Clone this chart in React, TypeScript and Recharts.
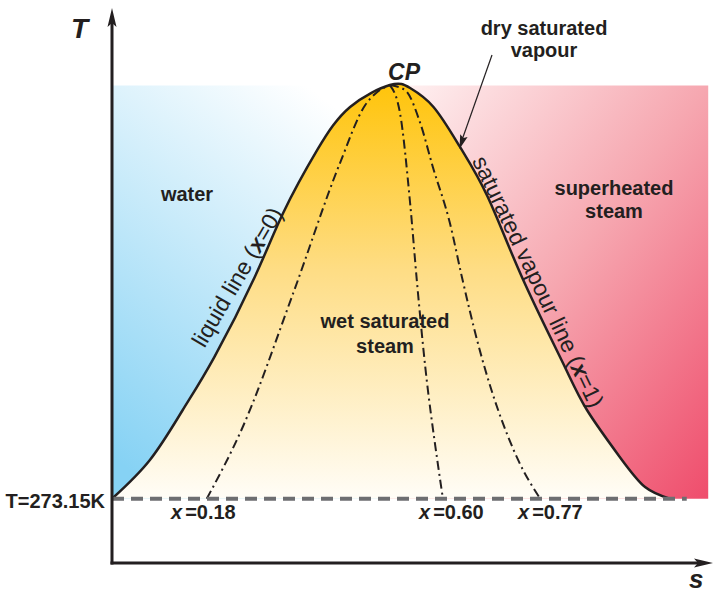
import { ComposedChart, Area, Line, XAxis, YAxis } from 'recharts'

// T-s diagram of water (s in arbitrary units, T in K)
const T0 = 273.15
const T_TOP = 647
const S_CP = 4.4
const S_RIGHT = 9.44
const S_DASH_END = 9.1

const domeS = [0, 0.6, 1.12, 1.62, 2.26, 2.71, 3.25, 3.77, 4.4, 4.72, 5.09, 5.51, 5.95, 6.49, 7.14, 7.52, 8.04, 8.44, 8.83]
const domeT = [273.15, 308.2, 353.4, 401.3, 473.7, 531.6, 588.6, 627.5, 647.3, 644.6, 627.5, 591.3, 546.0, 473.7, 395.9, 353.4, 310.9, 283.7, 273.15]

const q18S = [1.5, 2.07, 2.87, 3.61, 4.01, 4.2, 4.4]
const q18T = [273.15, 338.0, 459.2, 576.8, 629.3, 641.0, 647.3]

const q60S = [4.4, 4.56, 4.72, 4.83, 4.96, 5.15, 5.24]
const q60T = [647.3, 622.0, 540.6, 468.3, 392.3, 308.2, 273.15]

const q77S = [4.4, 4.64, 4.88, 5.08, 5.35, 5.54, 5.78, 6.43, 6.78]
const q77T = [647.3, 642.8, 613.0, 573.2, 522.5, 473.7, 416.7, 308.2, 273.15]

const zip = (s: number[], t: number[]) => s.map((v, i) => ({ s: v, T: t[i], r: [T0, t[i]] }))

const dome = zip(domeS, domeT)
const waterBox = zip([0, S_CP], [T_TOP, T_TOP])
const steamBox = zip([S_CP, S_RIGHT], [T_TOP, T_TOP])
const baseLine = zip([0, S_DASH_END], [T0, T0])

const INK = '#231f20'
const FONT = '"Liberation Sans", Arial, sans-serif'

const qualityLines = [
  { key: 'q18', data: zip(q18S, q18T) },
  { key: 'q60', data: zip(q60S, q60T) },
  { key: 'q77', data: zip(q77S, q77T) },
]

function Labels() {
  const txt = { fontFamily: FONT, fill: INK }
  return (
    <svg width={714} height={595} style={{ position: 'absolute', left: 0, top: 0, pointerEvents: 'none' }}>
      {/* axes with arrow heads */}
      <line x1={112} y1={564.5} x2={112} y2={22} stroke={INK} strokeWidth={3} />
      <line x1={110.5} y1={563} x2={700} y2={563} stroke={INK} strokeWidth={3} />
      <polygon points="112,8 107.5,27 112,23 116.5,27" fill={INK} />
      <polygon points="713,563 694,558.5 698,563 694,567.5" fill={INK} />
      <text x={71} y={38} {...txt} fontSize={28} fontWeight="bold" fontStyle="italic">T</text>
      <text x={689} y={588} {...txt} fontSize={26} fontWeight="bold" fontStyle="italic">s</text>

      <text x={404} y={80} {...txt} fontSize={23} fontWeight="bold" fontStyle="italic" textAnchor="middle">CP</text>

      <text x={544} y={35} {...txt} fontSize={20} fontWeight="bold" textAnchor="middle">dry saturated</text>
      <text x={544} y={57} {...txt} fontSize={20} fontWeight="bold" textAnchor="middle">vapour</text>
      <line x1={492} y1={55} x2={462} y2={140} stroke={INK} strokeWidth={1.2} />
      <polygon points="459.5,149 460.2,134.2 463.5,138 467.6,137" fill={INK} />

      <text x={187} y={201} {...txt} fontSize={20} fontWeight="bold" textAnchor="middle">water</text>
      <text x={614} y={195} {...txt} fontSize={20} fontWeight="bold" textAnchor="middle">superheated</text>
      <text x={614} y={218} {...txt} fontSize={20} fontWeight="bold" textAnchor="middle">steam</text>
      <text x={385} y={328} {...txt} fontSize={20} fontWeight="bold" textAnchor="middle">wet saturated</text>
      <text x={385} y={353} {...txt} fontSize={20} fontWeight="bold" textAnchor="middle">steam</text>

      <text x={244} y={281} {...txt} fontSize={23} textAnchor="middle" transform="rotate(-59.7 244 281)">
        liquid line (<tspan fontStyle="italic" fontWeight="bold">x</tspan>=0)
      </text>
      <text x={531} y={285} {...txt} fontSize={23} textAnchor="middle" transform="rotate(64.5 531 285)">
        saturated vapour line (<tspan fontStyle="italic" fontWeight="bold">x</tspan>=1)
      </text>

      <text x={105} y={508} {...txt} fontSize={20} fontWeight="bold" textAnchor="end">T=273.15K</text>
      <text x={171} y={519} {...txt} fontSize={20} fontWeight="bold">
        <tspan fontStyle="italic">x</tspan><tspan dx={3}>=0.18</tspan>
      </text>
      <text x={419} y={519} {...txt} fontSize={20} fontWeight="bold">
        <tspan fontStyle="italic">x</tspan><tspan dx={3}>=0.60</tspan>
      </text>
      <text x={518} y={519} {...txt} fontSize={20} fontWeight="bold">
        <tspan fontStyle="italic">x</tspan><tspan dx={3}>=0.77</tspan>
      </text>
    </svg>
  )
}

export default function App() {
  return (
    <div style={{ position: 'absolute', left: 0, top: 0, width: 714, height: 595, background: '#fff' }}>
      <ComposedChart width={714} height={595} margin={{ top: 8, right: 2, bottom: 32, left: 112 }}>
        <defs>
          <linearGradient id="water" x1="0.7" y1="0" x2="0.2" y2="1">
            <stop offset="0%" stopColor="#ffffff" />
            <stop offset="100%" stopColor="#86d2f4" />
          </linearGradient>
          <linearGradient id="steam" x1="0" y1="0" x2="1" y2="1">
            <stop offset="0%" stopColor="#fff4f4" />
            <stop offset="50%" stopColor="#f6a7b0" />
            <stop offset="100%" stopColor="#ef4d6c" />
          </linearGradient>
          <linearGradient id="wet" x1="0" y1="0" x2="0" y2="1">
            <stop offset="0%" stopColor="#ffc40a" />
            <stop offset="45%" stopColor="#fedd85" />
            <stop offset="100%" stopColor="#fffdf7" />
          </linearGradient>
        </defs>
        <XAxis type="number" dataKey="s" domain={[0, 9.5]} allowDataOverflow hide />
        <YAxis type="number" domain={[215, 717]} allowDataOverflow hide />
        <Area data={waterBox} dataKey="r" type="linear" stroke="none" fill="url(#water)" fillOpacity={1} dot={false} activeDot={false} isAnimationActive={false} />
        <Area data={steamBox} dataKey="r" type="linear" stroke="none" fill="url(#steam)" fillOpacity={1} dot={false} activeDot={false} isAnimationActive={false} />
        <Area data={dome} dataKey="r" type="natural" stroke="none" fill="url(#wet)" fillOpacity={1} dot={false} activeDot={false} isAnimationActive={false} />
        {qualityLines.map((q) => (
          <Line
            key={q.key}
            data={q.data}
            dataKey="T"
            type="monotone"
            stroke={INK}
            strokeWidth={2}
            strokeDasharray="9 4 2 4"
            dot={false}
            activeDot={false}
            isAnimationActive={false}
          />
        ))}
        <Line data={dome} dataKey="T" type="natural" stroke={INK} strokeWidth={2.5} dot={false} activeDot={false} isAnimationActive={false} />
        <Line data={baseLine} dataKey="T" type="linear" stroke="#6d6e71" strokeWidth={4} strokeDasharray="12 7" dot={false} activeDot={false} isAnimationActive={false} />
      </ComposedChart>
      <Labels />
    </div>
  )
}
